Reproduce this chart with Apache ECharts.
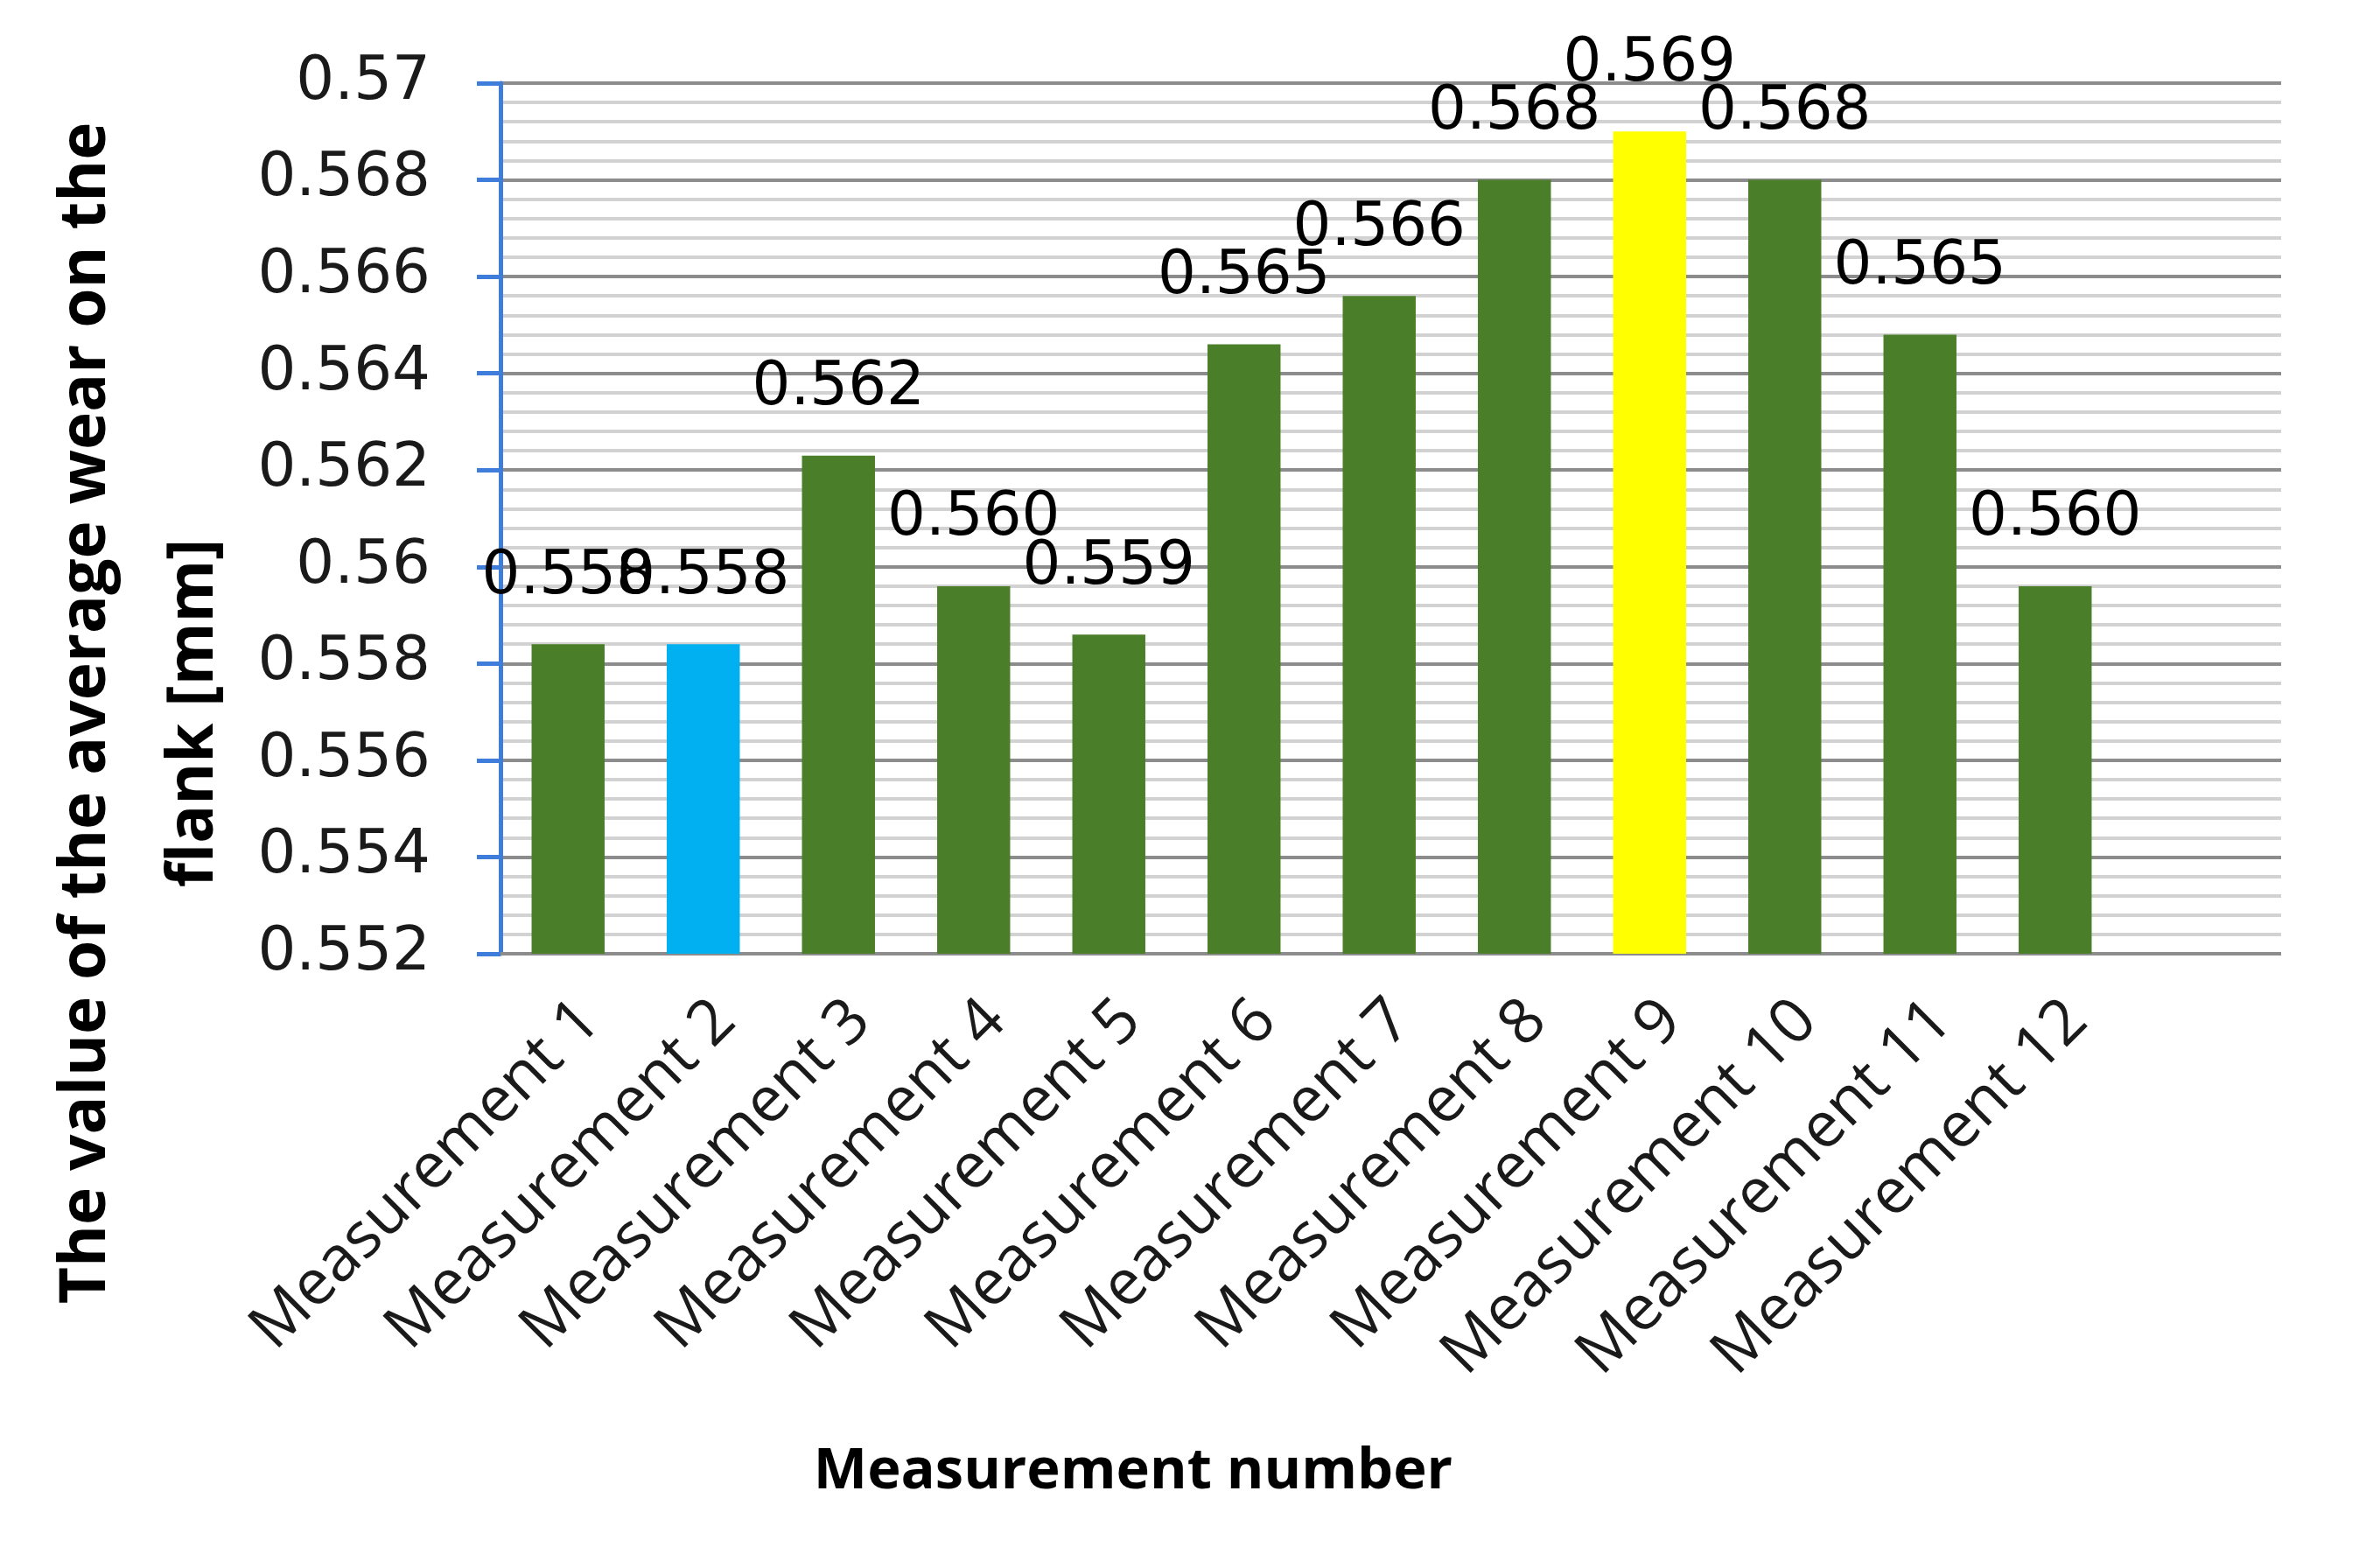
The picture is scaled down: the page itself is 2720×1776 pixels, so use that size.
<!DOCTYPE html>
<html>
<head>
<meta charset="utf-8">
<script src="https://cdn.jsdelivr.net/npm/echarts@6/dist/echarts.min.js"></script>
<style>
html,body{margin:0;padding:0;background:#fff;}
#chart{width:2720px;height:1776px;}
</style>
</head>
<body>
<div id="chart"></div>
<script>
var categories = ["Measurement 1","Measurement 2","Measurement 3","Measurement 4","Measurement 5","Measurement 6","Measurement 7","Measurement 8","Measurement 9","Measurement 10","Measurement 11","Measurement 12"];
var wearValues = [0.5584, 0.5584, 0.5623, 0.5596, 0.5586, 0.5646, 0.5656, 0.5680, 0.5690, 0.5680, 0.5648, 0.5596];
var yTicks = [0.552, 0.554, 0.556, 0.558, 0.56, 0.562, 0.564, 0.566, 0.568, 0.57];
var xTitle = "Measurement number";
var yTitleLine1 = "The value of the average wear on the";
var yTitleLine2 = "flank [mm]";

var GREEN = '#4a7e28', BLUE = '#00b0f0', YELLOW = '#ffff00';
var specialColor = {1: BLUE, 8: YELLOW};
var yMin = yTicks[0], yMax = yTicks[yTicks.length - 1];

var chart = echarts.init(document.getElementById('chart'), null, {renderer: 'canvas'});
var option = {
  backgroundColor: '#ffffff',
  animation: false,
  grid: [
    {left: 572, right: 113, top: 95, bottom: 686, containLabel: false},
    {left: 572, width: 1854, top: 95, bottom: 686, containLabel: false}
  ],
  title: {
    text: xTitle,
    left: 1290, top: 1645, textAlign: 'center',
    textStyle: {fontFamily: 'Open Sans', fontWeight: 'bold', fontSize: 65, color: '#000'}
  },
  graphic: [
    {type: 'text', x: 99, y: 815, rotation: Math.PI / 2,
     style: {text: yTitleLine1, textAlign: 'center', textVerticalAlign: 'middle',
             font: 'bold 73px "Open Sans"', fill: '#000'}},
    {type: 'text', x: 222, y: 815, rotation: Math.PI / 2,
     style: {text: yTitleLine2, textAlign: 'center', textVerticalAlign: 'middle',
             font: 'bold 73px "Open Sans"', fill: '#000'}}
  ],
  xAxis: [
    {type: 'value', gridIndex: 0, min: 0, max: 1, show: false},
    {
      type: 'category', gridIndex: 1,
      data: categories,
      axisLine: {show: true, lineStyle: {color: '#8c8c8c', width: 4}},
      axisTick: {show: false},
      axisLabel: {rotate: 45, margin: 40, verticalAlign: 'top',
                  fontFamily: 'Open Sans', fontSize: 72, color: '#1a1a1a', interval: 0}
    }
  ],
  yAxis: [
    {
      type: 'value', gridIndex: 0,
      min: yMin, max: yMax, interval: 0.002,
      axisLine: {show: true, lineStyle: {color: '#3f7ddb', width: 5}},
      axisTick: {show: true, inside: false, length: 27, lineStyle: {color: '#3f7ddb', width: 5}},
      axisLabel: {margin: 80, fontFamily: 'DejaVu Sans', fontSize: 69, color: '#1a1a1a',
        formatter: function (v) { return String(parseFloat(v.toFixed(3))); }},
      splitLine: {show: true, lineStyle: {color: '#8c8c8c', width: 4}},
      minorTick: {show: false, splitNumber: 5},
      minorSplitLine: {show: true, lineStyle: {color: '#d2d2d2', width: 4}}
    },
    {type: 'value', gridIndex: 1, min: yMin, max: yMax, interval: 0.002, show: false,
     splitLine: {show: false}}
  ],
  series: [{
    type: 'bar',
    xAxisIndex: 1, yAxisIndex: 1,
    barWidth: '54%',
    data: wearValues.map(function (v, i) {
      return {value: v, itemStyle: {color: specialColor[i] || GREEN}};
    }),
    label: {
      show: true, position: 'top', distance: 42,
      fontFamily: 'DejaVu Sans', fontSize: 69, color: '#000',
      formatter: function (p) { return p.value.toFixed(3); }
    }
  }]
};
chart.setOption(option);
</script>
</body>
</html>
